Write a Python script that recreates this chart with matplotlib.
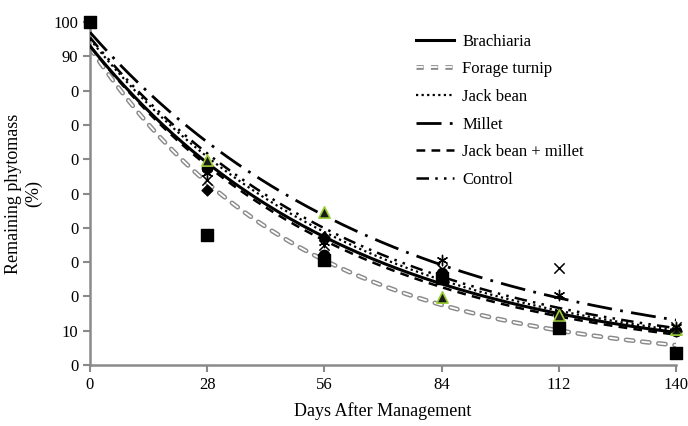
import numpy as np
import matplotlib
matplotlib.use("Agg")
import matplotlib.pyplot as plt
import matplotlib.patheffects as pe
from matplotlib.lines import Line2D

plt.rcParams['font.family'] = ['Liberation Serif', 'DejaVu Serif']

# sampling days
days = [0, 28, 56, 84, 112, 140]

# observed remaining phytomass (%)
brachiaria = [100, 51, 37.3, 26.5, 15.0, 10.0]
forage_turnip = [100, 38, 30.5, 25.4, 10.8, 3.5]
jack_bean = [100, 59.8, 44.6, 19.8, 14.5, 10.5]
millet = [100, 54, 35.0, 28.0, 28.3, 11.0]
jb_millet = [100, 56, 36.0, 30.6, 20.4, 11.0]
control = [100, 57.4, 32.0, 26.8, 14.6, 10.0]

# exponential trend line coefficients y = a * exp(-k * t)
fit_a = {'Brachiaria': 93.0, 'Forage turnip': 92.5, 'Jack bean': 95.0,
         'Millet': 97.0, 'Jack bean + millet': 93.0, 'Control': 95.5}
fit_k = {'Brachiaria': 0.0163, 'Forage turnip': 0.0198, 'Jack bean': 0.0160,
         'Millet': 0.0143, 'Jack bean + millet': 0.0168, 'Control': 0.0156}

ytick_vals = [0, 10, 20, 30, 40, 50, 60, 70, 80, 90, 100]
ytick_text = ['0', '10', '0', '0', '0', '0', '0', '0', '0', '90', '100']
xtick_vals = [0, 28, 56, 84, 112, 140]

fig = plt.figure(figsize=(6.88, 4.26), dpi=100)
ax = fig.add_axes([90/688, 61/426, 586/688, 343/426])

t = np.linspace(0, 140, 300)
def trend(name):
    return fit_a[name] * np.exp(-fit_k[name] * t)

# forage turnip: gray outlined dashes with white core
outlined = [pe.Stroke(linewidth=3.4, foreground='#8a8a8a'), pe.Normal()]
ax.plot(t, trend('Forage turnip'), color='white', lw=1.3, dashes=(4, 5),
        solid_capstyle='round', dash_capstyle='round', path_effects=outlined, zorder=2)
ax.plot(t, trend('Brachiaria'), color='black', lw=2.2, zorder=3)
ax.plot(t, trend('Jack bean'), color='black', lw=1.6, dashes=(1, 1.5), zorder=3)
ax.plot(t, trend('Millet'), color='black', lw=2.0, dashes=(9, 3, 1, 3), zorder=3)
ax.plot(t, trend('Jack bean + millet'), color='black', lw=1.8, dashes=(3.5, 2.5), zorder=3)
ax.plot(t, trend('Control'), color='black', lw=1.8, dashes=(5, 2.5, 1, 2.5, 1, 2.5), zorder=3)

ax.scatter(days, brachiaria, marker='D', s=30, color='black', zorder=5, clip_on=False)
ax.scatter(days, control, marker='o', s=55, color='black', zorder=5, clip_on=False)
ax.scatter(days, jack_bean, marker='^', s=65, facecolor='#1a1a1a', edgecolor='#9acd32', lw=1.2,
           zorder=6, clip_on=False)
ax.scatter(days, millet, marker='x', s=55, color='black', lw=1.1, zorder=6, clip_on=False)
ax.scatter(days, jb_millet, marker=(6, 2, 0), s=55, color='black', lw=1.0, zorder=6, clip_on=False)
ax.scatter(days, forage_turnip, marker='s', s=75, color='black', zorder=7, clip_on=False)

ax.set_xlim(0, 140)
ax.set_ylim(0, 100)
ax.set_xticks(xtick_vals)
ax.set_yticks(ytick_vals)
ax.set_yticklabels(ytick_text)
ax.tick_params(axis='both', colors='#8a8a8a', labelcolor='black', labelsize=12, length=5, width=1.5)
for side in ['top', 'right']:
    ax.spines[side].set_visible(False)
for side in ['left', 'bottom']:
    ax.spines[side].set_color('#8a8a8a')
    ax.spines[side].set_linewidth(1.8)

ax.set_xlabel('Days After Management', fontsize=13, labelpad=7)
ax.set_ylabel('Remaining phytomass\n(%)', fontsize=13, labelpad=8)

handles = [
    Line2D([], [], color='black', lw=2.2),
    Line2D([], [], color='white', lw=1.3, dashes=(4, 4), path_effects=outlined),
    Line2D([], [], color='black', lw=1.6, dashes=(1, 1.5)),
    Line2D([], [], color='black', lw=2.0, dashes=(9, 3, 1, 3)),
    Line2D([], [], color='black', lw=1.8, dashes=(3.5, 2.5)),
    Line2D([], [], color='black', lw=1.8, dashes=(5, 2.5, 1, 2.5, 1, 2.5)),
]
labels = ['Brachiaria', 'Forage turnip', 'Jack bean', 'Millet', 'Jack bean + millet', 'Control']
ax.legend(handles, labels, loc='upper left', bbox_to_anchor=(0.53, 1.01), frameon=False,
          fontsize=12, handlelength=2.3, labelspacing=0.7, handletextpad=0.5)

fig.savefig('out.png', dpi=100)
